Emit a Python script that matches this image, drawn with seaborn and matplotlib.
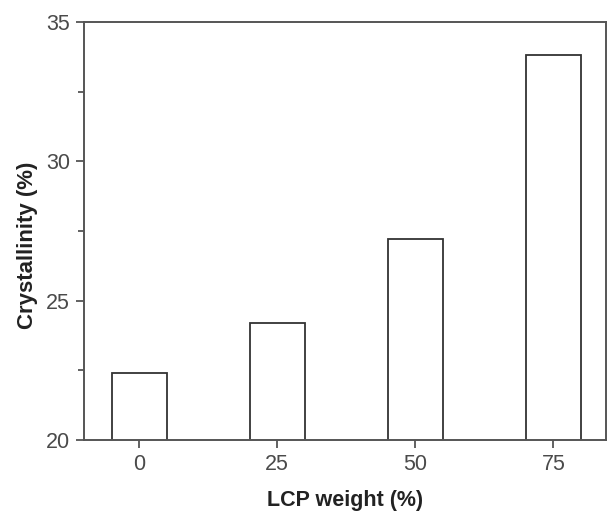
import matplotlib
matplotlib.use("Agg")
import matplotlib.pyplot as plt
import seaborn as sns
import pandas as pd
from matplotlib.ticker import MultipleLocator

lcp_weight = ["0", "25", "50", "75"]
crystallinity = [22.4, 24.2, 27.2, 33.8]

df = pd.DataFrame({"LCP weight (%)": lcp_weight, "Crystallinity (%)": crystallinity})

sns.set_style("white")
plt.rcParams['font.family'] = ['Liberation Sans', 'DejaVu Sans']

fig = plt.figure(figsize=(6.07, 5.13), dpi=100)
ax = fig.add_axes([0.1384, 0.1423, 0.8596, 0.8148])

sns.barplot(data=df, x="LCP weight (%)", y="Crystallinity (%)", ax=ax,
            color="white", edgecolor="#333333", linewidth=1.3, width=0.4,
            order=lcp_weight)

ax.set_ylim(20, 35)
ax.set_xlim(-0.4, 3.38)
ax.yaxis.set_major_locator(MultipleLocator(5))
ax.yaxis.set_minor_locator(MultipleLocator(2.5))

for s in ax.spines.values():
    s.set_color("#555555")
    s.set_linewidth(1.4)
    s.set_visible(True)

ax.tick_params(axis="both", which="major", direction="out", length=6, width=1.3,
               color="#555555", labelsize=15.5, labelcolor="#4a4a4a", pad=4,
               bottom=True, left=True)
ax.tick_params(axis="y", which="minor", direction="out", length=4, width=1.3,
               color="#555555", left=True)

ax.set_xlabel("LCP weight (%)", fontsize=15.5, fontweight="bold", color="#222222", labelpad=11)
ax.set_ylabel("Crystallinity (%)", fontsize=16, fontweight="bold", color="#222222", labelpad=6)
ax.yaxis.label.set_y(0.466)

fig.savefig("out.png", dpi=100)
